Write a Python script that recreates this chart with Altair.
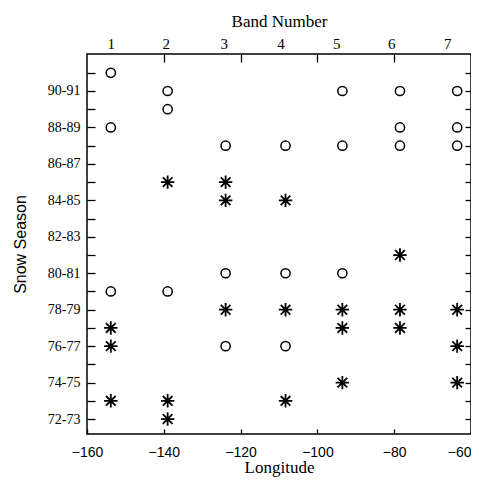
import altair as alt
import pandas as pd

# ---- data ----
bands = [1, 2, 3, 4, 5, 6, 7]
band_lon = [-153.8, -139.0, -123.9, -108.3, -93.5, -78.5, -63.6]
band_label_lon = [-153.8, -139.5, -124.4, -109.6, -95.1, -80.8, -66.2]
circle_seasons = [[91, 88, 79], [90, 89, 79], [87, 80, 76], [87, 80, 76],
                  [90, 87, 80], [90, 88, 87], [90, 88, 87]]
star_seasons = [[77, 76, 73], [85, 73, 72], [85, 84, 78], [84, 78, 73],
                [78, 77, 74], [81, 78, 77], [78, 76, 74]]
season_ticks = [72, 74, 76, 78, 80, 82, 84, 86, 88, 90]
season_labels = ["72-73", "74-75", "76-77", "78-79", "80-81",
                 "82-83", "84-85", "86-87", "88-89", "90-91"]
minor_seasons = list(range(72, 92))
lon_ticks = [-160, -140, -120, -100, -80, -60]
top_tick_lon = [-140, -120, -100, -80]

rows = []
for b, lon, cs, ss in zip(bands, band_lon, circle_seasons, star_seasons):
    for s in cs:
        rows.append({"band": b, "lon": lon, "season": s, "kind": "circle"})
    for s in ss:
        rows.append({"band": b, "lon": lon, "season": s, "kind": "star"})
df = pd.DataFrame(rows)
df_c = df[df.kind == "circle"]
df_s = df[df.kind == "star"]

xs = alt.Scale(domain=[-160, -60], nice=False, zero=False)
ys = alt.Scale(domain=[71.18, 92.03], nice=False, zero=False)

season_expr = " : ".join(f"datum.value == {v} ? '{l}'" for v, l in zip(season_ticks, season_labels)) + " : ''"
band_expr = " : ".join(f"datum.value == {v} ? '{b}'" for v, b in zip(band_label_lon, bands)) + " : ''"

STAR = "M-1,0L1,0M0,-1L0,1M-0.72,-0.72L0.72,0.72M-0.72,0.72L0.72,-0.72"

left_axis = alt.Axis(orient="left", values=minor_seasons, labelExpr=season_expr,
                     offset=-8, tickSize=8, domain=False, grid=False,
                     labelFont="Liberation Serif", labelFontSize=14, labelColor="black",
                     tickColor="black", tickWidth=1.3, labelPadding=7, labelOverlap=False,
                     title="Snow Season", titleFont="Liberation Sans", titleFontSize=16,
                     titleFontWeight="normal", titleColor="black", titlePadding=19)
bottom_axis = alt.Axis(orient="bottom", values=lon_ticks, format="d",
                       offset=-5, tickSize=5, domain=False, grid=False,
                       labelFont="Liberation Sans", labelFontSize=14, labelColor="black",
                       labelAlign={"condition": {"test": f"datum.value == {lon_ticks[-1]}",
                                                 "value": "right"}, "value": "center"},
                       tickColor="black", tickWidth=1.3, labelPadding=11, labelFlush=False,
                       labelOverlap=False,
                       title="Longitude", titleFont="Liberation Serif", titleFontSize=17,
                       titleFontWeight="normal", titleColor="black", titlePadding=0)
top_tick_axis = alt.Axis(orient="top", values=top_tick_lon, offset=-8, tickSize=8,
                         labels=False, domain=False, grid=False, title=None,
                         tickColor="black", tickWidth=1.3)
right_tick_axis = alt.Axis(orient="right", values=minor_seasons, offset=-6, tickSize=6,
                           labels=False, domain=False, grid=False, title=None,
                           tickColor="black", tickWidth=1.3)
band_axis = alt.Axis(orient="top", values=band_label_lon, labelExpr=band_expr,
                     ticks=False, domain=False, grid=False, labelPadding=3,
                     labelFont="Liberation Serif", labelFontSize=15, labelColor="black",
                     labelFlush=False, labelOverlap=False,
                     title="Band Number", titleFont="Liberation Serif", titleFontSize=17,
                     titleFontWeight="normal", titleColor="black", titlePadding=6)

circles = alt.Chart(df_c).mark_point(shape="circle", filled=False, size=85,
                                     strokeWidth=1.5, color="black", opacity=1).encode(
    x=alt.X("lon:Q", scale=xs, axis=bottom_axis),
    y=alt.Y("season:Q", scale=ys, axis=left_axis),
)
stars = alt.Chart(df_s).mark_point(shape=STAR, filled=False, size=180,
                                   strokeWidth=1.8, color="black", opacity=1).encode(
    x=alt.X("lon:Q", scale=xs, axis=top_tick_axis),
    y=alt.Y("season:Q", scale=ys, axis=right_tick_axis),
)
band_layer = alt.Chart(df_c).mark_point(opacity=0).encode(
    x=alt.X("lon:Q", scale=xs, axis=band_axis),
    y=alt.Y("season:Q", scale=ys, axis=None),
)

chart = alt.layer(circles, stars, band_layer).resolve_axis(
    x="independent", y="independent"
).properties(
    width=384, height=380,
    padding={"left": 79, "top": 46, "right": 0, "bottom": 43},
    autosize=alt.AutoSizeParams(type="none"),
    background="white",
).configure_view(stroke="black", strokeWidth=1.5)

chart.save("out.html", embed_options={"renderer": "svg", "actions": False})
